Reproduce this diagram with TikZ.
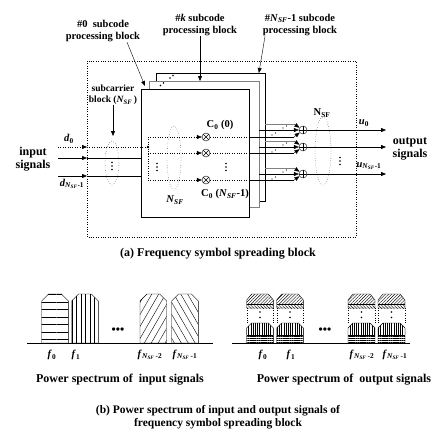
\documentclass[tikz,border=0pt]{standalone}
\usepackage{fontspec}
\setmainfont{Liberation Serif}
\usetikzlibrary{arrows.meta,patterns.meta}

\newcommand{\Nsf}{\textit{N}\textsubscript{\textit{SF}}}

% one bar of the input spectrum: left x, right x, pattern
\newcommand{\inbar}[3]{%
  \draw[pattern={#3}] (#1,343) -- (#1,301) -- ({#1+7},294) -- ({#2-7},294)
    -- (#2,301) -- (#2,343) -- cycle;}

% one bar of the output spectrum: left x, right x
\newcommand{\outbar}[2]{%
  \path[pattern={Lines[angle=45,distance=2.2pt]}] (#1,304) -- (#1,300) -- ({#1+5},294)
    -- ({#2-5},294) -- (#2,300) -- (#2,304) -- cycle;
  \path[pattern={Lines[angle=-45,distance=2.2pt]}] (#1,304) rectangle (#2,308);
  \draw (#1,308) -- (#1,300) -- ({#1+5},294) -- ({#2-5},294) -- (#2,300) -- (#2,308) -- cycle;
  \draw (#1,304) -- (#2,304);
  \draw[dotted] (#1,308) -- (#1,323) (#2,308) -- (#2,323);
  \fill ({(#1+#2)/2},312) circle (0.9) ({(#1+#2)/2},317.5) circle (0.9);
  \path[pattern={Lines[angle=90,distance=2.2pt]}] (#1,335) -- (#1,328) -- ({#1+5},323)
    -- ({#2-5},323) -- (#2,328) -- (#2,335) -- cycle;
  \path[pattern={Lines[angle=0,distance=2.2pt]}] (#1,335) rectangle (#2,343);
  \draw (#1,343) -- (#1,328) -- ({#1+5},323) -- ({#2-5},323) -- (#2,328) -- (#2,343);
  \draw (#1,335) -- (#2,335);}

\tikzset{
  lbl/.style={font=\bfseries\fontsize{10.5}{12.5}\selectfont, align=center, inner sep=0pt},
  big/.style={font=\bfseries\fontsize{12}{12.5}\selectfont, align=center, inner sep=0pt},
  sym/.style={font=\bfseries\fontsize{10.5}{12}\selectfont, inner sep=0pt},
  blk/.style={draw, fill=white, line width=0.9pt, anchor=north west, inner sep=0pt},
  tip/.style={-{Triangle[length=5pt,width=4pt]}},
  vd/.pic={\fill (0,-3.5) circle (0.9) (0,0) circle (0.9) (0,3.5) circle (0.9);},
  mult/.style={circle, draw, minimum size=8pt, inner sep=0pt,
    path picture={\draw (path picture bounding box.north west) -- (path picture bounding box.south east)
      (path picture bounding box.south west) -- (path picture bounding box.north east);}},
  adder/.style={circle, draw, minimum size=8pt, inner sep=0pt,
    path picture={\draw (path picture bounding box.north) -- (path picture bounding box.south)
      (path picture bounding box.west) -- (path picture bounding box.east);}},
}

\begin{document}
\begin{tikzpicture}[x=1pt,y=-1pt]
\useasboundingbox (0,0) rectangle (433,437);

% frequency symbol spreading block
\draw[dotted] (87,61) rectangle (356,237);

\node[blk, minimum width=109pt, minimum height=128pt] (bN) at (156,73) {};
\node[blk, draw=gray, line width=1.3pt, minimum width=110pt, minimum height=126pt] (bK) at (149,81) {};
\node[blk, minimum width=108pt, minimum height=128pt] (bF) at (141,89) {};
\foreach \p in {(160.5,85.5),(163.5,83),(170,78),(173,75.5)}
  \fill \p circle (0.8);

% labels of the subcode blocks
\node[lbl] (lab0) at (103,31) {\#0\ \ subcode\\processing block};
\node[lbl] (labk) at (200,25) {\#\textit{k} subcode\\processing block};
\node[lbl] (labn) at (300,25) {\#\Nsf-1 subcode\\processing block};
\draw[tip] ([xshift=24pt]lab0.south) -- ([xshift=4pt,yshift=3pt]bF.north west);
\draw[tip] (labk.south) -- (labk.south |- bK.north);
\draw[tip] ([xshift=-35pt]labn.south) -- ([xshift=-7pt]bN.north east);

\node[lbl, font=\bfseries\fontsize{9.5}{11}\selectfont] (sub) at (113,95) {subcarrier\\block (\Nsf\,)};
\coordinate (subtip) at (113,136);
\draw[tip] (sub) -- (subtip);

% input signals
\node[big] (insig) at (33,159) {input\\signals};
\node[sym] (d0) at (69,139) {\textit{d}\textsubscript{0}};
\node[sym] (dN) at (72,184) {\textit{d}\textsubscript{\Nsf-1}};
\foreach \i/\y in {1/147,2/158,3/176} {
  \coordinate (in\i) at (58,\y);
  \coordinate (fr\i) at (87,\y);
}
\coordinate (bus0) at (148,147);
\draw[dotted, tip] (in1) -- (fr1);
\draw[dotted] (fr1) -- (bus0);
\fill (bus0) circle (1.3);
\draw[tip] (in2) -- (fr2);
\draw (fr2) -- (fr2 -| bF.west);
\draw[tip] (in3) -- (fr3);
\draw (fr3) -- (fr3 -| bF.west);
\draw[dotted] (112,163) ellipse (7 and 22);
\pic at (112,166) {vd};

% multipliers
\foreach \i/\y in {1/137,2/153,3/180} {
  \node[mult] (m\i) at (206,\y) {};
  \coordinate (bus\i) at (148,\y);
  \draw[dotted, tip] (bus\i) -- (m\i);
}
\draw[dotted] (bus1) -- (bus3);
\node[sym] (c0a) at (220,125) {C\textsubscript{0} (0)};
\node[sym] (c0b) at (225,194) {C\textsubscript{0} (\Nsf-1)};
\draw[dotted] (174,158) ellipse (7 and 32);
\node[sym] (nm) at (175,200) {\Nsf};
\pic at (157,167) {vd};
\pic at (226,167) {vd};

% adders
\foreach \i/\ym/\ya in {1/137/130,2/153/147,3/180/174} {
  \node[adder] (a\i) at (303,\ya) {};
  \coordinate (f\i) at (249,\ym);
  \coordinate (g\i) at (294,\ym);
  \coordinate (k\i) at (259,\ya);
  \coordinate (n\i) at (265,{\ya-6});
  \coordinate (h\i) at (294,{\ya-6});
  \coordinate (o\i) at (386,\ya);
  \draw[dotted] (m\i) -- (f\i);
  \draw (f\i) -- (g\i);
  \draw[tip] (g\i) -- (a\i);
  \draw[tip] (k\i) -- (a\i);
  \draw[gray, line width=0.9pt] (n\i) -- (h\i);
  \draw[tip] (h\i) -- (a\i);
  \fill (283,{\ya-2}) circle (0.7) (286.5,{\ya-4}) circle (0.7);
  \fill (272,{\ya+5}) circle (0.7) (275.5,{\ya+3}) circle (0.7);
  \draw[tip] (a\i) -- (o\i);
}
\draw[dotted] (323,151) ellipse (8 and 34);
\node[sym] (nout) at (322,113) {N\textsubscript{SF}};
\pic at (340,161) {vd};
\node[sym] (u0) at (364,123) {\textit{u}\textsubscript{0}};
\node[sym] (uN) at (369,166) {\textit{u}\textsubscript{\Nsf-1}};
\node[big] (outsig) at (410,149) {output\\signals};

\node[big] (capa) at (218,254) {(a) Frequency symbol spreading block};

% power spectrum of input signals
\inbar{41.7}{68.3}{Lines[angle=0,distance=7.5pt]}
\inbar{71.7}{98.3}{Lines[angle=90,distance=4.5pt]}
\inbar{140}{166.7}{Lines[angle=60,distance=6pt]}
\inbar{171.7}{198.3}{Lines[angle=-60,distance=6pt]}
\draw (27,343) -- (213,343);
\node[big] (din) at (118,331) {•••};
\node[sym] (fi0) at (52,355) {\textit{f}\textsubscript{0}};
\node[sym] (fi1) at (76,355) {\textit{f}\textsubscript{1}};
\node[sym] (fi2) at (150,355) {\textit{f}\textsubscript{\Nsf\,-2}};
\node[sym] (fi3) at (185,355) {\textit{f}\textsubscript{\Nsf\,-1}};
\node[big] (pin) at (120,380) {Power spectrum of\ \ input signals};

% power spectrum of output signals
\outbar{246.7}{273.3}
\outbar{276.7}{303.3}
\outbar{348}{375}
\outbar{378}{405}
\draw (232,343) -- (410,343);
\node[big] (dout) at (325,331) {•••};
\node[sym] (fo0) at (263,355) {\textit{f}\textsubscript{0}};
\node[sym] (fo1) at (291,355) {\textit{f}\textsubscript{1}};
\node[sym] (fo2) at (362,355) {\textit{f}\textsubscript{\Nsf\,-2}};
\node[sym] (fo3) at (395,355) {\textit{f}\textsubscript{\Nsf\,-1}};
\node[big] (pout) at (344,380) {Power spectrum of\ \ output signals};

\node[big, font=\bfseries\fontsize{11.5}{13}\selectfont] (capb) at (218,417)
  {(b) Power spectrum of input and output signals of\\frequency symbol spreading block};
\end{tikzpicture}
\end{document}
